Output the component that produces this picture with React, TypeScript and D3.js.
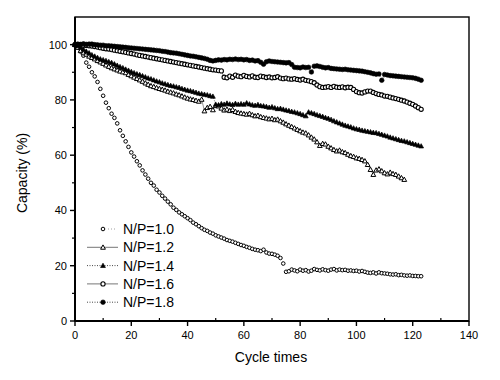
import React from "react";
import * as d3 from "d3";

const cyclesLabel = "Cycle times";
const yLabel = "Capacity (%)";
const xTicks = [0, 20, 40, 60, 80, 100, 120, 140];
const yTicks = [0, 20, 40, 60, 80, 100];
const seriesNames = ["N/P=1.0", "N/P=1.2", "N/P=1.4", "N/P=1.6", "N/P=1.8"];

const np10 = [100, 99, 97.5, 96, 93.5, 92, 90, 88.5, 86.5, 84, 81.5, 79, 77, 75, 73.5, 71.5, 69, 67, 65, 63, 61, 59.5, 57.8, 56.3, 54.5, 53, 51.5, 50, 49, 47.5, 46.5, 45.3, 44.3, 43.2, 42.2, 41, 40.2, 39.3, 38.6, 37.9, 37.2, 36.5, 35.6, 35, 34.3, 33.6, 33, 32.6, 32, 31.6, 31, 30.6, 30.2, 29.8, 29.3, 29, 28.7, 28.3, 27.9, 27.5, 27.2, 26.8, 26.5, 26.1, 25.8, 25.6, 25.3, 25.8, 24.8, 24.4, 24.3, 24.0, 23.6, 22.8, 20.8, 17.8, 18, 18.6, 18.3, 18, 18.6, 18.2, 18.4, 17.9, 18.2, 18.8, 18.5, 18.3, 18.7, 18.4, 18.2, 18.6, 18.8, 18.3, 18.6, 18.4, 18.5, 18.2, 18.3, 18.1, 18.2, 17.9, 18.1, 17.8, 17.5, 17.4, 17.6, 17.2, 17.6, 17.3, 17.2, 17.1, 16.9, 16.8, 16.9, 16.6, 16.7, 16.5, 16.4, 16.5, 16.3, 16.3, 16.2, 16.2];

const np12 = [100, 99, 97.8, 97, 96.5, 95.8, 95.3, 94.8, 94.2, 93.7, 93.2, 92.6, 92.1, 91.6, 91.2, 90.8, 90.4, 90.1, 89.8, 89.2, 88.7, 88.2, 87.7, 87.2, 86.7, 86.1, 85.6, 85.1, 84.8, 84.4, 84.1, 83.8, 83.5, 83.1, 82.8, 82.5, 82.1, 81.8, 81.4, 81, 80.6, 80.3, 80.1, 79.8, 79.5, 80.2, 76, 77.2, 77.6, 76.4, 77.9, 77.8, 77, 76.3, 76.6, 76.1, 76.5, 75.8, 75.4, 75.2, 75, 74.8, 75.1, 74.6, 74.2, 74.4, 73.9, 73.6, 73.4, 73.1, 73.3, 72.8, 73, 72.4, 71.9, 71.3, 70.8, 70.3, 69.8, 69.3, 68.8, 68.3, 68, 67.3, 66.5, 65.8, 64.8, 63.5, 64.2, 64, 63.2, 62.6, 62, 61.5, 61.8, 61.2, 60.9, 60.3, 59.8, 59.5, 59, 58.8, 58.4, 57.9, 56.6, 54.8, 53, 54.6, 55, 54.3, 53.6, 53.2, 53.8, 53.3, 53, 52.4, 51.8, 51.2];

const np14 = [100, 99.6, 99, 98.3, 97.6, 97, 96.3, 95.8, 95.3, 94.8, 94.5, 94.2, 93.8, 93.5, 93, 92.5, 92, 91.6, 91.1, 90.7, 90.2, 89.8, 89.4, 89.1, 88.7, 88.3, 87.9, 87.6, 87.2, 86.8, 86.5, 86.1, 85.8, 85.5, 85.2, 85, 84.7, 84.5, 84.1, 83.8, 83.5, 83.3, 83, 82.7, 82.4, 82.2, 82, 81.8, 81.5, 81.3, 78.4, 78.2, 78.6, 78.4, 78.8, 78.5, 78.3, 78.7, 78.4, 78.6, 78.4, 78.9, 78.5, 78.2, 78.0, 78.3, 77.9, 77.8, 77.6, 77.3, 77.5, 77.1, 76.8, 76.9, 76.6, 76.3, 76.1, 75.8, 75.6, 75.3, 75, 74.6, 74.2, 75.6, 75.3, 75, 74.6, 74.3, 74, 73.6, 73.3, 72.9, 72.4, 72, 71.6, 71.2, 70.8, 70.5, 70.2, 69.8, 69.5, 69.3, 69, 68.8, 68.6, 68.4, 68.2, 68.1, 67.8, 67.5, 67.2, 66.9, 66.5, 66.2, 65.9, 65.6, 65.3, 65.1, 64.8, 64.5, 64.2, 63.9, 63.6, 63.3];

const np16 = [100, 100, 99.9, 99.8, 99.7, 99.6, 99.5, 99.3, 99.1, 98.9, 98.7, 98.5, 98.4, 98.2, 98, 97.8, 97.6, 97.4, 97.2, 97, 96.8, 96.6, 96.3, 96.1, 95.9, 95.7, 95.5, 95.3, 95.1, 94.9, 94.7, 94.5, 94.3, 94.1, 93.9, 93.7, 93.5, 93.3, 93.1, 92.9, 92.7, 92.5, 92.3, 92.1, 91.9, 91.7, 91.5, 91.3, 91.1, 90.9, 90.8, 90.6, 90.5, 88.2, 88.0, 88.6, 88.2, 89, 88.6, 88.4, 88.9, 88.5, 88.3, 88.7, 88.2, 88.1, 88.6, 88.4, 88.1, 88.3, 88.0, 88.1, 88.4, 87.9, 87.7, 87.9, 87.6, 87.5, 87.7, 87.4, 87.2, 87.5, 87.1, 86.9, 86.6, 86.2, 85.4, 84.8, 84.5, 84.6, 84.8, 84.5, 84.9, 84.6, 84.5, 84.7, 84.4, 84.6, 84.5, 83.8, 83, 82.6, 82.5, 82.9, 83.2, 83.2, 82.7, 82.3, 82, 81.8, 81.4, 81.3, 81, 80.7, 80.5, 80.2, 79.9, 79.6, 79.2, 78.8, 78.4, 77.8, 77.2, 76.6];

const np18 = [100, 100.2, 100.1, 100.3, 100.1, 100.2, 100.2, 100, 99.9, 99.8, 99.8, 99.6, 99.6, 99.5, 99.4, 99.3, 99.2, 99.1, 99, 98.9, 98.8, 98.7, 98.6, 98.5, 98.4, 98.3, 98.2, 98.1, 98, 97.9, 97.8, 97.6, 97.5, 97.3, 97.1, 97, 96.9, 96.7, 96.5, 96.3, 96.1, 95.9, 95.8, 95.6, 95.4, 95.2, 95, 94.7, 94.3, 94.1, 94.3, 94.5, 94.4, 94.6, 94.5, 94.7, 94.6, 94.8, 94.6, 94.7, 94.5, 94.6, 94.3, 94.4, 94.1, 94.2, 93.6, 92.9, 93.8, 94.1, 93.9, 93.8, 93.7, 93.6, 93.5, 93.4, 93.5, 92.8, 91.8, 91.7, 91.6, 91.9, 91.7, 91.8, 90.1, 92.2, 92.3, 92.1, 91.8, 91.6, 91.7, 91.4, 91.3, 91.2, 91.1, 91, 91.1, 90.9, 90.8, 90.7, 90.6, 90.5, 90.4, 90.2, 90, 89.8, 89.5, 89.3, 89.4, 87.1, 89.2, 89, 88.8, 88.7, 88.6, 88.5, 88.4, 88.3, 88.2, 88.1, 88, 87.8, 87.5, 87.1];

const allSeries = [np10, np12, np14, np16, np18];

const W = 500;
const H = 380;
const left = 75;
const right = 469;
const top = 17;
const bottom = 321;

const x = d3.scaleLinear().domain([0, 140]).range([left, right]);
const y = d3.scaleLinear().domain([0, 110]).range([bottom, top]);

type Kind = "ocircle" | "otri" | "ftri" | "ocircle2" | "fcircle";
const kinds: Kind[] = ["ocircle", "otri", "ftri", "ocircle2", "fcircle"];
const lineStyles = [
  { dash: "1,2", stroke: "#888", show: false },
  { dash: "", stroke: "#666", show: true },
  { dash: "1,1.5", stroke: "#333", show: true },
  { dash: "", stroke: "#666", show: true },
  { dash: "1,1.5", stroke: "#333", show: true },
];

const font = "'Liberation Sans', Arial, sans-serif";

function Marker({ kind, cx, cy }: { kind: Kind; cx: number; cy: number }) {
  if (kind === "ocircle")
    return <circle cx={cx} cy={cy} r={1.8} fill="white" stroke="#000" strokeWidth={1} />;
  if (kind === "ocircle2")
    return <circle cx={cx} cy={cy} r={2.1} fill="white" stroke="#000" strokeWidth={1.1} />;
  if (kind === "fcircle")
    return <circle cx={cx} cy={cy} r={2.3} fill="#000" stroke="#000" strokeWidth={0.6} />;
  const s = 2.4;
  const d = `M${cx},${cy - s}L${cx + s},${cy + s * 0.8}L${cx - s},${cy + s * 0.8}Z`;
  if (kind === "otri") return <path d={d} fill="white" stroke="#000" strokeWidth={1} />;
  return <path d={d} fill="#000" stroke="#000" strokeWidth={0.7} />;
}

export default function App() {
  const line = d3
    .line<number>()
    .x((_, i) => x(i))
    .y((v) => y(v));
  const xMinor = d3.range(10, 140, 20);
  const yMinor = d3.range(10, 110, 20);
  const drawOrder = [0, 1, 3, 2, 4];
  return (
    <svg
      width={W}
      height={H}
      style={{ position: "absolute", left: 0, top: 0, background: "white" }}
      fontFamily={font}
    >
      <rect x={0} y={0} width={W} height={H} fill="white" />
      {drawOrder.map((si) => {
        const data = allSeries[si];
        const ls = lineStyles[si];
        return (
          <g key={si}>
            {ls.show && (
              <path
                d={line(data) || ""}
                fill="none"
                stroke={ls.stroke}
                strokeWidth={0.7}
                strokeDasharray={ls.dash || undefined}
              />
            )}
            {data.map((v, i) => (
              <Marker key={i} kind={kinds[si]} cx={x(i)} cy={y(v)} />
            ))}
          </g>
        );
      })}
      {/* frame */}
      <rect
        x={left}
        y={top}
        width={right - left}
        height={bottom - top}
        fill="none"
        stroke="#000"
        strokeWidth={1.4}
      />
      <line x1={left} x2={left} y1={top} y2={bottom} stroke="#000" strokeWidth={2} />
      <line x1={left} x2={right} y1={bottom} y2={bottom} stroke="#000" strokeWidth={1.8} />
      {/* x ticks */}
      {xTicks.map((t) => (
        <g key={"xt" + t}>
          <line x1={x(t)} x2={x(t)} y1={bottom} y2={bottom + 5} stroke="#000" strokeWidth={1.4} />
          <text x={x(t)} y={bottom + 18} textAnchor="middle" fontSize={11} fill="#000">
            {t}
          </text>
        </g>
      ))}
      {xMinor.map((t) => (
        <line key={"xm" + t} x1={x(t)} x2={x(t)} y1={bottom} y2={bottom - 3} stroke="#000" strokeWidth={1.2} />
      ))}
      {/* y ticks */}
      {yTicks.map((t) => (
        <g key={"yt" + t}>
          <line x1={left - 5} x2={left} y1={y(t)} y2={y(t)} stroke="#000" strokeWidth={1.4} />
          <text x={left - 8} y={y(t) + 4} textAnchor="end" fontSize={11} fill="#000">
            {t}
          </text>
        </g>
      ))}
      {yMinor.map((t) => (
        <line key={"ym" + t} x1={left - 3} x2={left} y1={y(t)} y2={y(t)} stroke="#000" strokeWidth={1.2} />
      ))}
      {/* axis titles */}
      <text x={271} y={362} textAnchor="middle" fontSize={14} fill="#000">
        {cyclesLabel}
      </text>
      <text
        transform={`translate(27,${(top + bottom) / 2 + 4}) rotate(-90)`}
        textAnchor="middle"
        fontSize={14}
        fill="#000"
      >
        {yLabel}
      </text>
      {/* legend */}
      {seriesNames.map((name, i) => {
        const ly = 229 + i * 18.3;
        const ls = lineStyles[i];
        return (
          <g key={name}>
            {i === 0 ? (
              <line x1={108} x2={115} y1={ly} y2={ly} stroke="#888" strokeWidth={0.8} strokeDasharray="1,2" />
            ) : (
              <line
                x1={87}
                x2={118}
                y1={ly}
                y2={ly}
                stroke={ls.stroke}
                strokeWidth={0.9}
                strokeDasharray={ls.dash || undefined}
              />
            )}
            <Marker kind={kinds[i]} cx={103} cy={ly} />
            <text x={123} y={ly + 5} fontSize={14} fill="#000">
              {name}
            </text>
          </g>
        );
      })}
    </svg>
  );
}
